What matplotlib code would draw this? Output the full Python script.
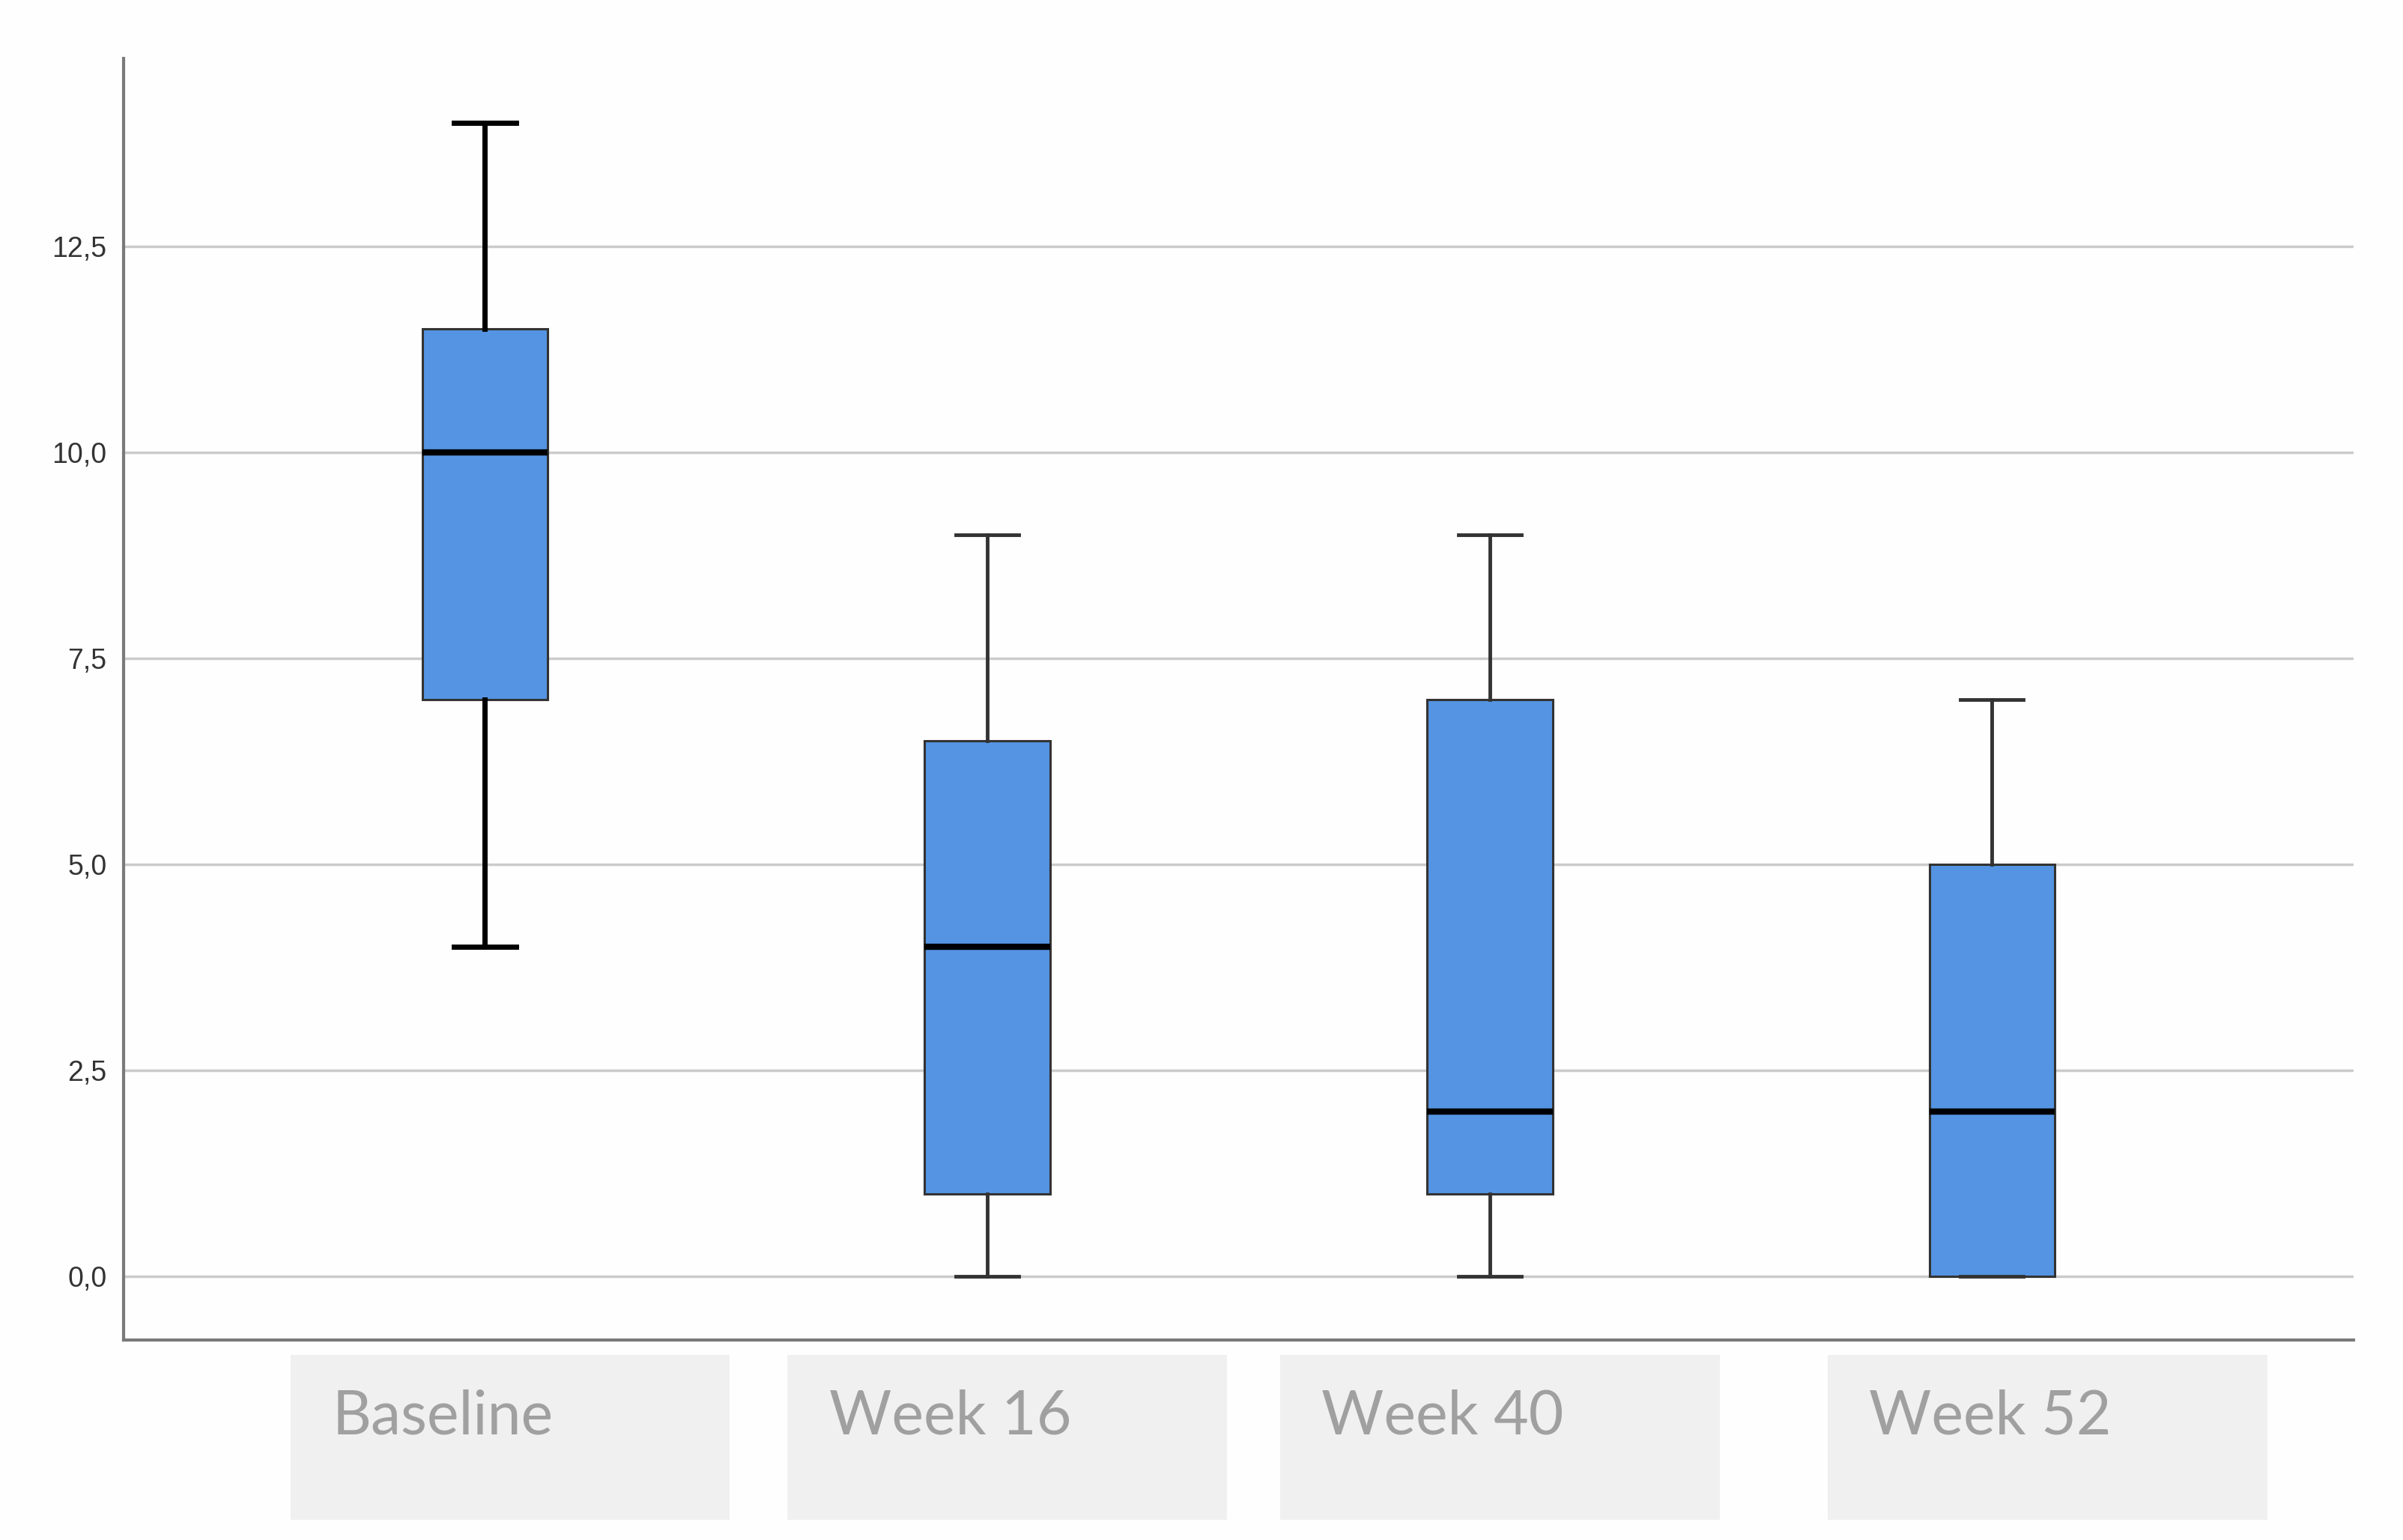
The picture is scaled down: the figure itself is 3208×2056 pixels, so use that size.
"""
Box plot of scores at baseline and follow-up visits (SPSS-style look).
"""

import matplotlib
matplotlib.use("Agg")
import matplotlib.pyplot as plt
from matplotlib.patches import Rectangle
from matplotlib.transforms import blended_transform_factory

# values
visits = ["Baseline", "Week 16", "Week 40", "Week 52"]
whisker_low = [4.0, 0.0, 0.0, 0.0]
q1 = [7.0, 1.0, 1.0, 0.0]
median = [10.0, 4.0, 2.0, 2.0]
q3 = [11.5, 6.5, 7.0, 5.0]
whisker_high = [14.0, 9.0, 9.0, 7.0]

y_ticks = [0.0, 2.5, 5.0, 7.5, 10.0, 12.5]
y_tick_labels = ["0,0", "2,5", "5,0", "7,5", "10,0", "12,5"]

# label tiles under the axis are a bit off-centre in the original
tile_shift = [0.05, 0.04, 0.02, 0.11]

BOX_COLOR = "#5494e2"
GRID_COLOR = "#cbcbcb"
SPINE_COLOR = "#7a7a7a"


def main() -> None:
    fig = plt.figure(figsize=(32.08, 20.56), dpi=100)
    fig.patch.set_facecolor("#fefefe")
    ax = fig.add_axes([0.0513, 0.130, 0.9282, 0.832])
    ax.set_facecolor("#fefefe")

    stats = []
    for i, name in enumerate(visits):
        stats.append(
            {
                "label": name,
                "whislo": whisker_low[i],
                "q1": q1[i],
                "med": median[i],
                "q3": q3[i],
                "whishi": whisker_high[i],
                "fliers": [],
            }
        )

    positions = list(range(len(visits)))
    parts = ax.bxp(
        stats,
        positions=positions,
        widths=0.25,
        capwidths=0.125,
        patch_artist=True,
        showfliers=False,
        boxprops=dict(facecolor=BOX_COLOR, edgecolor="#333333", linewidth=2.2),
        medianprops=dict(color="black", linewidth=6, solid_capstyle="butt"),
        whiskerprops=dict(color="#333333", linewidth=3.5),
        capprops=dict(color="#333333", linewidth=3.5),
        zorder=3,
    )
    # baseline whiskers are drawn darker and heavier in the original
    for line in parts["whiskers"][0:2] + parts["caps"][0:2]:
        line.set_color("black")
        line.set_linewidth(5)

    ax.set_xlim(-0.72, 3.72)
    ax.set_ylim(-0.77, 14.78)
    ax.set_yticks(y_ticks)
    ax.set_yticklabels(y_tick_labels)
    ax.set_xticks([])
    ax.tick_params(axis="y", length=0, pad=16, labelsize=27, labelcolor="#333333")
    for lbl in ax.get_yticklabels():
        lbl.set_fontfamily("Liberation Sans")

    ax.grid(axis="y", color=GRID_COLOR, linewidth=2.5, zorder=0)
    ax.set_axisbelow(True)

    for side in ["top", "right"]:
        ax.spines[side].set_visible(False)
    for side in ["left", "bottom"]:
        ax.spines[side].set_color(SPINE_COLOR)
        ax.spines[side].set_linewidth(3)

    # grey category tiles below the plot
    trans = blended_transform_factory(ax.transData, fig.transFigure)
    for pos, name, shift in zip(positions, visits, tile_shift):
        left = pos + shift - 0.4375
        tile = Rectangle(
            (left, 0.013), 0.875, 0.107,
            transform=trans, facecolor="#f0f0f0", edgecolor="none",
            clip_on=False,
        )
        fig.add_artist(tile)
        fig.text(
            left + 0.083, 0.080, name, transform=trans,
            ha="left", va="center", fontsize=58, color="#a0a0a0",
            family="Lato",
        )

    fig.savefig("out.png", dpi=100, facecolor=fig.get_facecolor())
    plt.close(fig)


if __name__ == "__main__":
    main()
